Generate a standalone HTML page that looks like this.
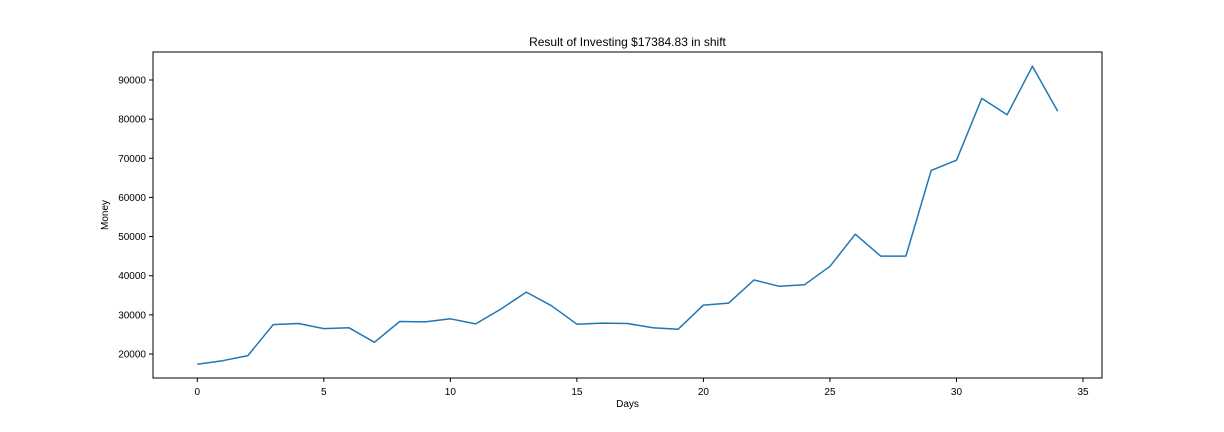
<!DOCTYPE html>
<html><head><meta charset="utf-8"><style>
html,body{margin:0;padding:0;background:#fff;}
svg{display:block;font-family:"Liberation Sans","DejaVu Sans",sans-serif;}
</style></head><body>
<svg id="chart" width="1224" height="432"></svg>
<script>
const days = [0,1,2,3,4,5,6,7,8,9,10,11,12,13,14,15,16,17,18,19,20,21,22,23,24,25,26,27,28,29,30,31,32,33,34];
const money = [17385,18300,19600,27500,27800,26500,26700,23000,28300,28200,29000,27700,31500,35800,32300,27600,27900,27800,26700,26300,32500,33000,38900,37300,37700,42400,50600,45000,45000,66900,69500,85300,81100,93500,82000];
const xTicks = [0,5,10,15,20,25,30,35];
const yTicks = [20000,30000,40000,50000,60000,70000,80000,90000];

const L=153,R=1102,T=52,B=378;
const xMin=-1.75,xMax=35.75,yMin=13868,yMax=97150;
const sx=v=>L+(v-xMin)/(xMax-xMin)*(R-L);
const sy=v=>B-(v-yMin)/(yMax-yMin)*(B-T);
const svg=document.getElementById('chart');
const NS='http://www.w3.org/2000/svg';
function mk(tag,attrs,text){const e=document.createElementNS(NS,tag);for(const k in attrs)e.setAttribute(k,attrs[k]);if(text!==undefined)e.textContent=text;svg.appendChild(e);return e;}

const frame=mk('rect',{x:L,y:T,width:R-L,height:B-T,fill:'none',stroke:'#000','stroke-width':1});



xTicks.forEach(t=>{
  const x=sx(t);
  const tk=mk('line',{x1:x,y1:B,x2:x,y2:B+4,stroke:'#000'});
  
  
  const lb=mk('text',{x:x,y:B+17,'font-size':10,'text-anchor':'middle'},String(t));
  
  
});
yTicks.forEach(t=>{
  const y=sy(t);
  const tk=mk('line',{x1:L-4,y1:y,x2:L,y2:y,stroke:'#000'});
  
  
  const lb=mk('text',{x:L-7,y:y+3.5,'font-size':10,'text-anchor':'end'},String(t));
  
  
});

const pts=days.map((d,i)=>sx(d).toFixed(1)+','+sy(money[i]).toFixed(1)).join(' ');
const line=mk('polyline',{points:pts,fill:'none',stroke:'#1f77b4','stroke-width':1.5,'stroke-linejoin':'round'});



const title=mk('text',{x:(L+R)/2,y:46,'font-size':12,'text-anchor':'middle'},'Result of Investing $17384.83 in shift');


const xl=mk('text',{x:(L+R)/2,y:407,'font-size':10,'text-anchor':'middle'},'Days');


const yl=mk('text',{x:0,y:0,'font-size':10,'text-anchor':'middle',transform:'translate(108,215) rotate(-90)'},'Money');


</script>
</body></html>
